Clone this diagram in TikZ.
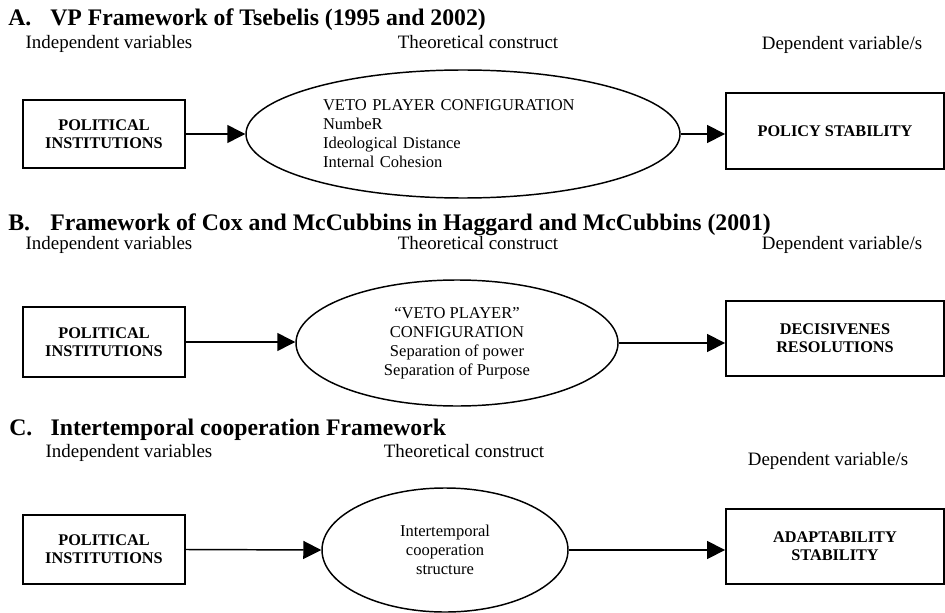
\documentclass[tikz,border=0pt]{standalone}
\usepackage{fontspec}
\setmainfont{Liberation Serif}
\usetikzlibrary{shapes.geometric,arrows.meta}

\tikzset{
  head/.style={anchor=base west, inner sep=0, font=\fontsize{17.8}{20}\selectfont\bfseries},
  sub/.style={anchor=base, inner sep=0, font=\fontsize{14.2}{16}\selectfont},
  varbox/.style={draw, line width=1.4pt, inner sep=0, align=center,
    minimum width=121.5pt, font=\fontsize{12.2}{13.5}\selectfont\bfseries},
  construct/.style={draw, ellipse, line width=1.1pt, inner sep=0, align=center,
    font=\fontsize{12.4}{14.2}\selectfont},
  link/.style={line width=1.1pt, -{Triangle[length=13.5pt,width=13.5pt]}}
}

\begin{document}
\begin{tikzpicture}[x=0.75pt, y=-0.75pt]
  \useasboundingbox (0,0) rectangle (945,613);

  % A
  \node[head] (titleA) at (8,26) {\makebox[31.5pt][l]{A.}VP Framework of Tsebelis (1995 and 2002)};
  \node[sub] (indA) at (109,49) {Independent variables};
  \node[sub] (theoA) at (478,49) {Theoretical construct};
  \node[sub] (depA) at (842,50) {Dependent variable/s};

  \node[varbox, minimum height=51pt] (A1) at (104,134) {POLITICAL\\INSTITUTIONS};
  \node[construct, minimum width=325.5pt, minimum height=96pt, text width=210pt, align=left] (eA) at (463,134)
    {VETO PLAYER CONFIGURATION\\NumbeR\\Ideological Distance\\Internal Cohesion};
  \node[varbox, minimum width=163.5pt, minimum height=57pt] (A3) at (835,131) {POLICY STABILITY};

  \draw[link] (A1.east) -- (eA.west);
  \draw[link] (eA.east) -- (eA.east -| A3.west);

  % B
  \node[head] (titleB) at (8,230) {\makebox[31.5pt][l]{B.}Framework of Cox and McCubbins in Haggard and McCubbins (2001)};
  \node[sub] (indB) at (109,249) {Independent variables};
  \node[sub] (theoB) at (478,249) {Theoretical construct};
  \node[sub] (depB) at (842,249) {Dependent variable/s};

  \node[varbox, minimum height=52.5pt] (B1) at (104,342) {POLITICAL\\INSTITUTIONS};
  \node[construct, minimum width=241.5pt, minimum height=94.5pt] (eB) at (457,343)
    {``VETO PLAYER''\\CONFIGURATION\\Separation of power\\Separation of Purpose};
  \node[varbox, minimum width=163.5pt, minimum height=56pt] (B3) at (835,338.5) {DECISIVENES\\RESOLUTIONS};

  \draw[link] (B1.east) -- (B1.east -| eB.west);
  \draw[link] (eB.east) -- (eB.east -| B3.west);

  % C
  \node[head] (titleC) at (9,435) {\makebox[31pt][l]{C.}Intertemporal cooperation Framework};
  \node[sub] (indC) at (129,457) {Independent variables};
  \node[sub] (theoC) at (464,457) {Theoretical construct};
  \node[sub] (depC) at (828,465) {Dependent variable/s};

  \node[varbox, minimum height=52pt] (C1) at (104,549.5) {POLITICAL\\INSTITUTIONS};
  \node[construct, minimum width=184.5pt, minimum height=93pt] (eC) at (445,550)
    {Intertemporal\\cooperation\\structure};
  \node[varbox, minimum width=163.5pt, minimum height=56pt] (C3) at (835,546.5) {ADAPTABILITY\\STABILITY};

  \draw[link] (C1.east) -- (eC.west);
  \draw[link] (eC.east) -- (eC.east -| C3.west);
\end{tikzpicture}
\end{document}
